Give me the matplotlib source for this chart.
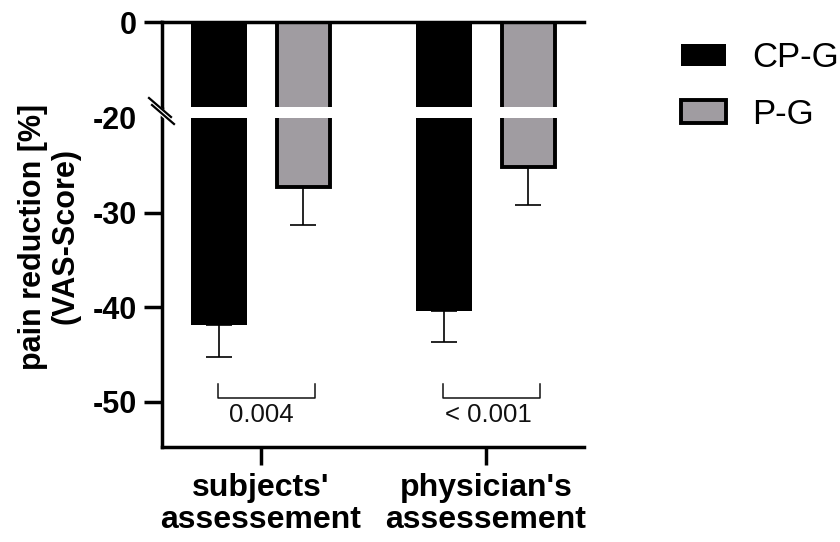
import matplotlib
matplotlib.use("Agg")
import matplotlib.pyplot as plt
import numpy as np
from matplotlib.lines import Line2D
from matplotlib.patches import Patch

plt.rcParams['font.family'] = ['Liberation Sans', 'DejaVu Sans']

# ---- data ----
categories = ["subjects'\nassessement", "physician's\nassessement"]
series_names = ["CP-G", "P-G"]
cpg_values = [-41.9, -40.4]
cpg_err = [3.4, 3.3]
pg_values = [-27.3, -25.2]
pg_err = [4.0, 4.0]
p_labels = ["0.004", "< 0.001"]
yticks_bottom = [-20, -30, -40, -50]
yticks_top = [0]

W, H = 840, 542
fig = plt.figure(figsize=(W / 100, H / 100), dpi=100)

def fx(px):
    return px / W

def fy(py):
    return 1 - py / H

# axes geometry (pixels)
x_left, x_right = 162, 584
top_y0, top_y1 = 22, 107
bot_y0, bot_y1 = 118, 447

ax_top = fig.add_axes([fx(x_left), fy(top_y1), fx(x_right) - fx(x_left), fy(top_y0) - fy(top_y1)])
ax_bot = fig.add_axes([fx(x_left), fy(bot_y1), fx(x_right) - fx(x_left), fy(bot_y0) - fy(bot_y1)])

x = np.arange(len(categories))
off = 0.188
bw = 0.249
black = "#000000"
gray = "#a09ca1"
lw_axis = 2.5
edge_lw = 2.8
tick_fs = 22

for ax in (ax_top, ax_bot):
    ax.bar(x - off, cpg_values, bw, color=black, edgecolor=black, linewidth=0, zorder=2)
    ax.bar(x + off, pg_values, bw - 0.012, color=gray, edgecolor=black, linewidth=edge_lw, zorder=2)
    ax.set_xlim(-0.44, 1.436)
    for s in ax.spines.values():
        s.set_linewidth(lw_axis)
    ax.spines['right'].set_visible(False)
    ax.tick_params(axis='both', width=lw_axis, length=13, pad=5)

# error bars (downward only)
ax_bot.errorbar(x - off, cpg_values, yerr=[cpg_err, [0] * len(cpg_err)], fmt='none',
                ecolor=black, elinewidth=1.2, capsize=9.5, capthick=1.2, zorder=1)
ax_bot.errorbar(x + off, pg_values, yerr=[pg_err, [0] * len(pg_err)], fmt='none',
                ecolor=black, elinewidth=1.2, capsize=9.5, capthick=1.2, zorder=1)

# top segment
ax_top.set_ylim(-9, 0)
ax_top.set_yticks(yticks_top)
ax_top.set_yticklabels([str(v) for v in yticks_top], fontweight='bold', fontsize=tick_fs)
ax_top.spines['bottom'].set_visible(False)
ax_top.spines['top'].set_visible(True)
ax_top.set_xticks([])

# bottom segment
ax_bot.set_ylim(-54.8, -20)
ax_bot.set_yticks(yticks_bottom)
ax_bot.set_yticklabels([str(v) for v in yticks_bottom], fontweight='bold', fontsize=tick_fs)
ax_bot.spines['top'].set_visible(False)
ax_bot.set_xticks(x)
ax_bot.set_xticklabels(categories, fontweight='bold', fontsize=23, linespacing=1.08)
ax_bot.tick_params(axis='x', length=13, pad=6)
# hide -20 tick mark but keep label
ax_bot.yaxis.get_major_ticks()[0].tick1line.set_visible(False)

# significance brackets
for i, lab in enumerate(p_labels):
    xl, xr = x[i] - 0.19, x[i] + 0.24
    yb, yt = -49.6, -48.1
    ax_bot.plot([xl, xl, xr, xr], [yt, yb, yb, yt], color='#111111', lw=1.1, zorder=3)
    ax_bot.text(x[i] + (0.0 if i == 0 else 0.01), yb - 0.55, lab, ha='center', va='top',
                fontsize=18.5, color='#111111')

# continuous left spine through the gap
fig.add_artist(Line2D([fx(x_left), fx(x_left)], [fy(top_y1), fy(bot_y0)],
                      color=black, lw=lw_axis, solid_capstyle='butt'))
# break marks
fig.add_artist(Line2D([fx(148), fx(176)], [fy(100), fy(125)], color='white', lw=4.5))
fig.add_artist(Line2D([fx(149), fx(171)], [fy(98), fy(117)], color=black, lw=1.6))
fig.add_artist(Line2D([fx(152), fx(174)], [fy(105), fy(124)], color=black, lw=1.6))

# y label
fig.text(fx(33), fy(237), "pain reduction [%]", rotation=90, ha='center', va='center',
         fontsize=22, fontweight='bold')
fig.text(fx(65), fy(236), "(VAS-Score)", rotation=90, ha='center', va='center',
         fontsize=22, fontweight='bold')

# legend
handles = [Patch(facecolor=black, edgecolor=black, linewidth=0),
           Patch(facecolor=gray, edgecolor=black, linewidth=edge_lw)]
fig.legend(handles, series_names, loc='upper left', bbox_to_anchor=(fx(681), fy(41)),
           frameon=False, fontsize=25, handlelength=1.3, handleheight=0.62,
           handletextpad=0.75, labelspacing=0.68, borderpad=0, borderaxespad=0)

fig.savefig("out.png", dpi=100)
